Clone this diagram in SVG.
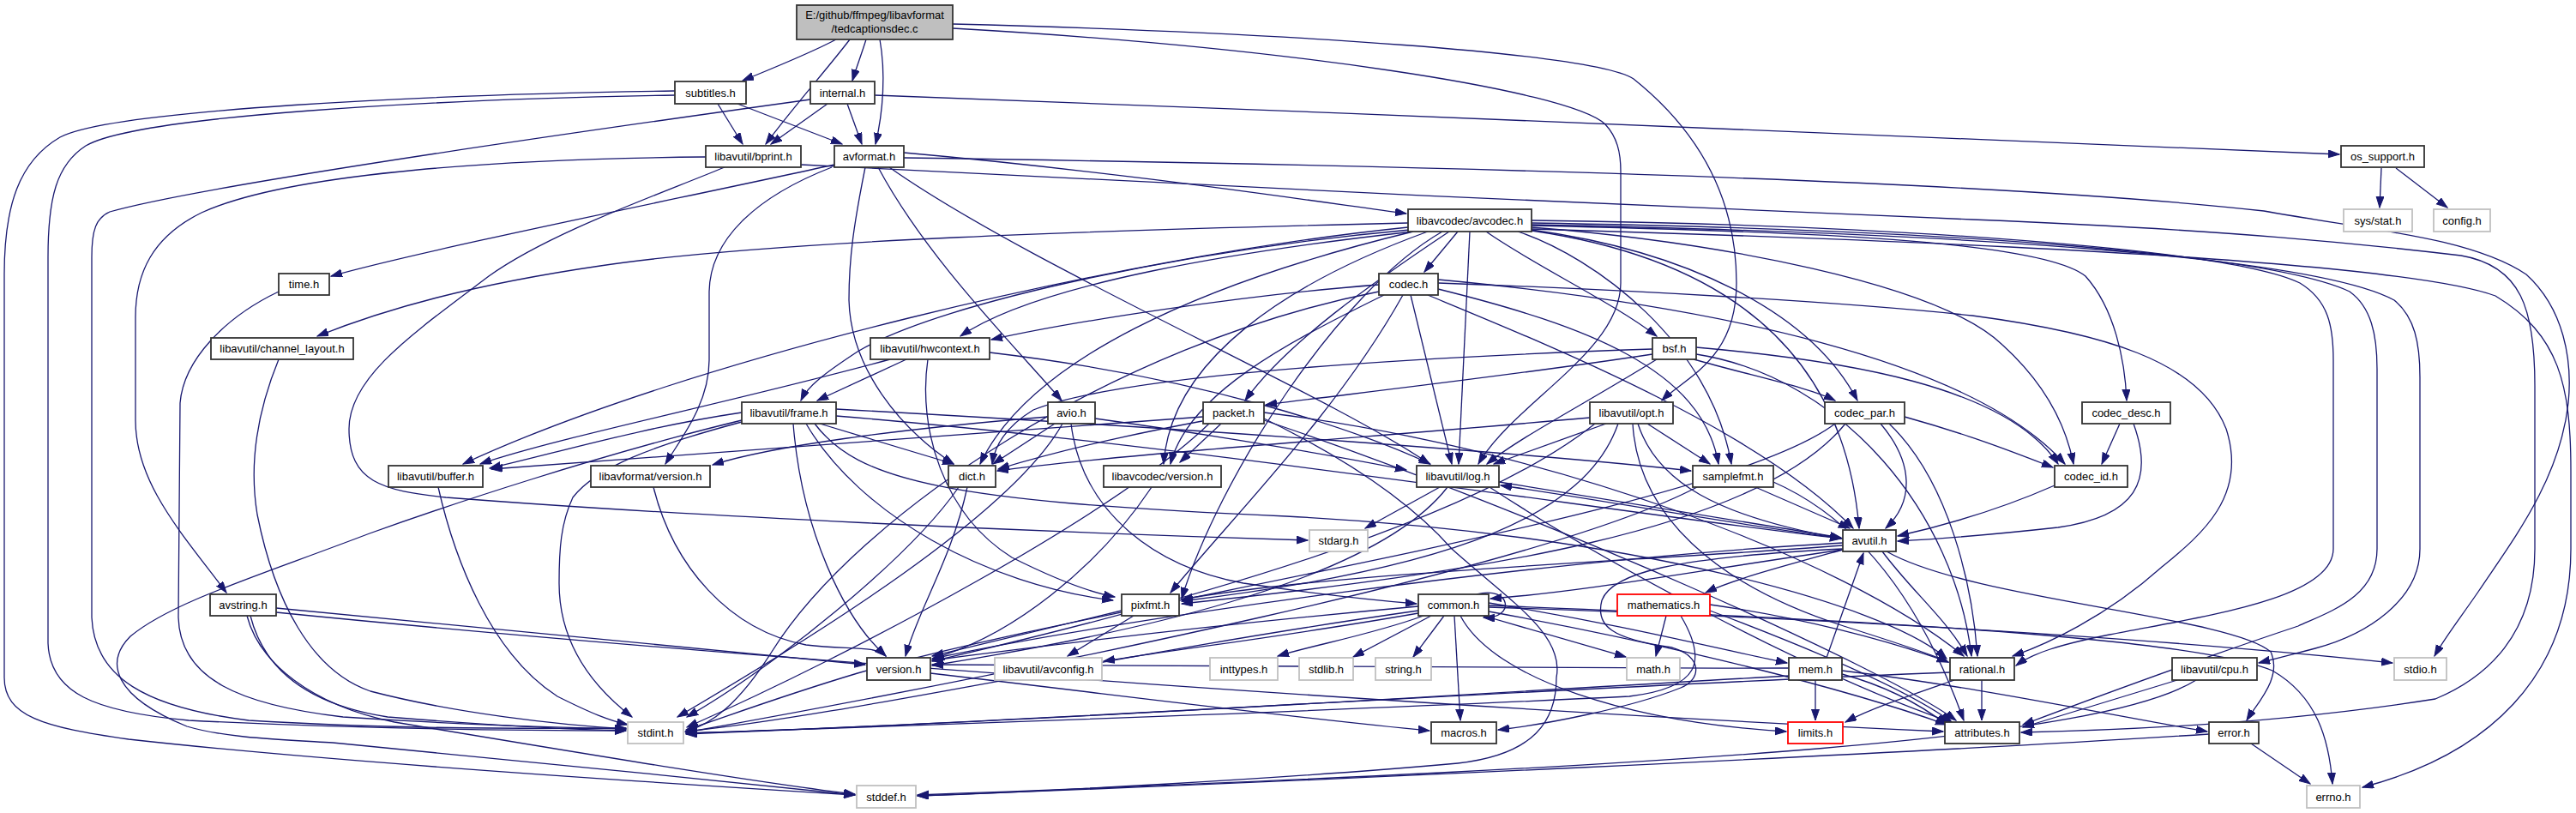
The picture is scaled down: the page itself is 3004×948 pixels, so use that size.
<svg xmlns="http://www.w3.org/2000/svg" width="3004" height="948" viewBox="0 0 3004 948">
<defs>
<marker id="a" markerUnits="userSpaceOnUse" markerWidth="14" markerHeight="10" refX="13" refY="4.5" orient="auto"><path d="M0,0 L13,4.5 L0,9 z" fill="#191970" stroke="#191970" stroke-width="1"/></marker>
<style>
.ed path{fill:none;stroke:#191970;stroke-width:1.3;marker-end:url(#a)}
rect{fill:#fff;stroke-width:1.8}
.b rect{stroke:#333}
.g rect{stroke:#c0c0c0}
.r rect{stroke:#ff0000}
.m rect{fill:#bfbfbf;stroke:#333}
text{font-family:"Liberation Sans",Arial,sans-serif;font-size:13px;text-anchor:middle;fill:#000}
</style>
</defs>
<rect x="0" y="0" width="3004" height="948" style="fill:#fff;stroke:none"/>
<g id="edges" class="ed">
<path d="M975,46 C945,62 900,80 866,94"/>
<path d="M991,46 C965,80 925,125 893,168"/>
<path d="M1010,46 C1005,62 999,78 994,94"/>
<path d="M1026,46 C1033,85 1030,130 1021,168"/>
<path d="M1111,33 C1500,55 1830,105 1872,145 C1886,160 1890,178 1890,200 L1890,330 C1890,410 1765,470 1724,541"/>
<path d="M1111,28 C1500,38 1860,62 1905,92 C1990,160 2025,240 2025,330 C2025,420 1965,440 1938,467"/>
<path d="M837,121 L866,168"/>
<path d="M860,121 L982,168"/>
<path d="M787,106 C500,110 130,128 70,160 C22,188 5,240 5,320 L5,790 C5,835 50,848 150,862 C400,890 800,915 997,927"/>
<path d="M787,111 C500,116 160,135 100,170 C66,192 56,230 56,300 L56,750 C58,808 110,830 220,840 C420,850 600,852 730,852"/>
<path d="M965,121 L899,168"/>
<path d="M988,121 L1005,168"/>
<path d="M945,116 C700,150 240,215 128,247 C112,254 107,268 107,300 L107,720 C110,790 170,825 290,840 C450,850 620,850 730,849"/>
<path d="M1020,111 C1600,133 2300,160 2728,180"/>
<path d="M823,183 C600,185 340,200 235,248 C178,276 158,318 158,370 L158,490 C158,565 215,625 264,691"/>
<path d="M845,195 C760,230 640,272 570,322 C480,390 407,440 407,500 C407,562 445,572 520,580 C800,602 1200,620 1525,630"/>
<path d="M934,192 C1300,212 1900,240 2300,256 C2600,268 2760,285 2870,298 C2940,310 2956,360 2956,450 L2956,640 C2956,740 2900,790 2840,815 C2650,845 2450,852 2357,854"/>
<path d="M973,192 C800,230 500,290 386,322"/>
<path d="M1054,178 C1300,200 1500,230 1640,249"/>
<path d="M1009,195 C996,260 990,300 990,350 C992,430 1050,500 1112,541"/>
<path d="M1024,195 C1080,300 1180,400 1238,467"/>
<path d="M1037,195 C1200,310 1550,460 1667,541"/>
<path d="M1054,184 C1600,192 2300,208 2640,246 C2760,268 2880,276 2946,320 C2990,360 3000,420 2995,470 C2985,560 2930,630 2890,690 C2868,722 2850,745 2839,765"/>
<path d="M970,195 C880,230 828,280 827,340 L827,420 C827,470 795,510 776,541"/>
<path d="M1786,267 C2300,282 2800,305 2910,345 C2985,390 2998,450 2998,550 L2998,640 C2998,790 2900,880 2755,918"/>
<path d="M1770,270 C1860,300 1995,400 2019,541"/>
<path d="M1786,260 C2300,268 2650,298 2740,340 C2765,358 2772,390 2772,430 L2772,640 C2772,695 2720,712 2680,730 C2560,770 2420,822 2359,845"/>
<path d="M1786,269 C2000,300 2150,400 2168,616"/>
<path d="M1642,265 C1300,300 800,420 540,541"/>
<path d="M1786,262 C2300,272 2700,300 2792,350 C2816,370 2822,400 2822,440 L2822,640 C2822,700 2760,740 2700,756 C2670,764 2650,769 2634,773"/>
<path d="M1642,260 C1300,268 900,280 700,310 C550,332 450,360 370,392"/>
<path d="M1648,270 C1400,330 1200,420 1143,541"/>
<path d="M1644,268 C1400,290 1100,350 1000,410 C962,435 942,450 934,467"/>
<path d="M1648,270 C1450,292 1210,330 1120,392"/>
<path d="M1714,270 L1701,541"/>
<path d="M1682,270 C1560,340 1420,560 1378,698"/>
<path d="M1786,257 C2200,262 2600,290 2682,330 C2715,350 2721,380 2721,420 L2721,640 C2721,700 2560,720 2460,740 C2400,752 2370,762 2351,776"/>
<path d="M1733,270 C1790,310 1880,352 1932,392"/>
<path d="M1700,270 L1661,317"/>
<path d="M1786,263 C2100,270 2380,280 2432,322 C2466,360 2478,420 2480,467"/>
<path d="M1786,268 C1960,292 2110,360 2166,467"/>
<path d="M1786,265 C2000,282 2260,330 2335,402 C2390,452 2410,500 2418,541"/>
<path d="M1690,270 C1600,330 1500,400 1452,467"/>
<path d="M1665,270 C1500,330 1365,420 1357,541"/>
<path d="M1608,340 C1300,400 1000,600 900,760 C862,820 830,845 799,853"/>
<path d="M1665,344 C1800,400 2050,500 2161,616"/>
<path d="M1608,332 C1450,344 1250,375 1156,396"/>
<path d="M1645,344 L1693,541"/>
<path d="M1636,344 C1560,480 1440,600 1365,691"/>
<path d="M1677,330 C1900,338 2150,352 2300,368 C2450,388 2565,420 2596,500 C2622,580 2565,625 2520,662 C2455,720 2385,752 2347,765"/>
<path d="M1677,337 C1850,380 1985,430 2004,541"/>
<path d="M1677,326 C2000,356 2300,420 2408,541"/>
<path d="M1614,344 C1500,400 1385,460 1365,541"/>
<path d="M1927,407 C1600,418 1300,440 1205,478 C1172,498 1160,520 1157,541"/>
<path d="M1932,419 C1850,470 1772,510 1734,541"/>
<path d="M1978,413 C2150,440 2280,600 2299,765"/>
<path d="M1978,405 C2150,420 2340,450 2400,541"/>
<path d="M1975,419 C2050,440 2110,452 2140,467"/>
<path d="M1927,413 C1750,440 1550,462 1476,472"/>
<path d="M2140,494 C2000,600 1300,700 1000,785 C900,815 830,842 800,851"/>
<path d="M2193,494 C2232,540 2232,585 2199,616"/>
<path d="M2203,494 C2272,560 2300,680 2306,765"/>
<path d="M2152,494 C2050,620 1720,668 1378,704"/>
<path d="M2221,486 C2300,508 2350,528 2394,545"/>
<path d="M2488,494 C2512,560 2492,602 2400,615 C2300,626 2250,629 2213,631"/>
<path d="M2472,494 L2451,541"/>
<path d="M2396,566 C2330,595 2262,614 2213,625"/>
<path d="M1474,488 C1560,530 1640,580 1693,640 C1760,700 1825,740 1815,790 C1815,840 1790,880 1700,890 C1500,908 1200,924 1070,928"/>
<path d="M1410,494 C1300,600 1000,760 801,848"/>
<path d="M1474,490 C1800,600 2200,780 2281,840"/>
<path d="M1403,486 C1100,508 800,528 573,547"/>
<path d="M1402,491 C1300,510 1220,530 1164,547"/>
<path d="M1474,481 C1800,520 2150,650 2290,765"/>
<path d="M1424,494 L1376,539"/>
<path d="M1343,568 C1280,662 1180,742 1087,768"/>
<path d="M762,568 C785,660 850,735 940,752 C990,758 1020,752 1033,765"/>
<path d="M1239,494 C1180,600 950,742 790,836"/>
<path d="M1249,494 C1262,600 1350,662 1450,680 C1550,695 1605,700 1652,704"/>
<path d="M1230,494 L1158,541"/>
<path d="M1277,488 C1400,505 1550,530 1640,548"/>
<path d="M1222,486 C1050,500 900,520 831,542"/>
<path d="M865,490 C700,530 520,590 431,622 C300,672 200,702 152,742 C122,772 132,812 218,847 C262,860 320,862 388,866 C550,882 800,906 997,927"/>
<path d="M865,492 C760,520 695,545 668,580 C654,610 652,640 652,680 C652,740 680,792 737,836"/>
<path d="M975,485 C1400,520 1900,600 2147,628"/>
<path d="M865,481 C750,498 650,528 571,546"/>
<path d="M956,494 L1112,541"/>
<path d="M950,494 C1000,560 1100,585 1500,602 C1900,622 2200,705 2270,768"/>
<path d="M975,477 C1400,500 1800,530 1972,549"/>
<path d="M940,494 C1002,600 1150,682 1298,700"/>
<path d="M925,494 C935,620 985,722 1033,765"/>
<path d="M1038,419 C850,470 650,510 560,541"/>
<path d="M1057,419 L953,467"/>
<path d="M1154,411 C1400,440 1580,500 1668,541"/>
<path d="M1082,419 C1070,500 1100,600 1180,650 C1230,675 1268,690 1300,696"/>
<path d="M325,419 C300,480 290,540 300,600 C320,700 362,782 432,806 C532,832 650,845 730,850"/>
<path d="M325,340 C262,370 214,420 210,470 L208,720 C210,792 280,822 400,836 C550,846 650,848 730,850"/>
<path d="M511,568 C530,652 572,762 650,812 C690,832 710,840 732,845"/>
<path d="M1118,568 C1060,652 900,780 801,836"/>
<path d="M1128,568 C1110,652 1070,712 1056,765"/>
<path d="M1904,494 C1910,600 2000,682 2150,730 C2220,752 2250,762 2272,772"/>
<path d="M1910,494 C1932,562 2002,602 2147,628"/>
<path d="M1854,487 C1600,510 1300,530 1163,549"/>
<path d="M1873,494 L1742,541"/>
<path d="M1887,494 C1850,600 1700,662 1378,701"/>
<path d="M1921,494 L1994,541"/>
<path d="M1860,494 C1700,622 1300,722 1087,771"/>
<path d="M1679,568 L1592,616"/>
<path d="M1748,562 C1900,588 2050,610 2147,627"/>
<path d="M1737,568 C1850,642 2100,782 2275,842"/>
<path d="M1688,568 C1600,682 1300,742 1087,776"/>
<path d="M1979,568 C1800,662 1200,782 800,854"/>
<path d="M2047,568 L2157,616"/>
<path d="M2068,562 C2200,620 2262,762 2290,840"/>
<path d="M2149,641 C2000,662 1850,690 1738,698"/>
<path d="M2200,643 C2300,700 2600,718 2648,760 C2662,790 2632,820 2620,840"/>
<path d="M2195,643 C2230,690 2270,722 2294,765"/>
<path d="M2149,633 C1800,652 1300,722 1088,768"/>
<path d="M2149,640 C1950,650 1880,668 1868,700 C1860,730 1880,745 1950,755 C1985,765 1985,792 1960,802 C1900,826 1800,845 1747,851"/>
<path d="M2149,641 C2080,660 2020,676 1989,691"/>
<path d="M2149,628 C2000,608 1850,580 1750,566"/>
<path d="M2149,636 C1900,655 1550,668 1378,699"/>
<path d="M1736,706 C2100,720 2550,740 2650,782 C2702,812 2716,862 2720,914"/>
<path d="M1660,718 C1600,740 1532,752 1490,765"/>
<path d="M1703,718 C1742,792 1900,842 2083,853"/>
<path d="M1730,718 L1896,766"/>
<path d="M1654,712 C1300,762 1000,832 800,853"/>
<path d="M1736,708 C2100,720 2500,742 2790,773"/>
<path d="M1669,718 L1578,766"/>
<path d="M1684,718 L1648,766"/>
<path d="M1736,713 C1950,752 2150,802 2270,845"/>
<path d="M1696,718 L1703,840"/>
<path d="M1654,707 C1400,730 1200,755 1087,770"/>
<path d="M1654,715 C1500,742 1380,756 1287,771"/>
<path d="M1736,703 C1900,730 2000,756 2084,773"/>
<path d="M1722,693 C1762,682 1768,722 1730,720"/>
<path d="M1943,718 L1931,765"/>
<path d="M1960,718 C1992,772 1982,802 1900,812 C1500,832 1000,848 800,855"/>
<path d="M1994,705 C2100,720 2200,746 2272,772"/>
<path d="M1994,712 C2100,752 2222,802 2276,842"/>
<path d="M2117,793 L2117,840"/>
<path d="M2130,767 L2173,645"/>
<path d="M2086,788 C1700,810 1200,842 800,855"/>
<path d="M2148,786 C2200,800 2240,822 2270,845"/>
<path d="M2148,782 C2300,800 2450,832 2574,853"/>
<path d="M2086,779 C1700,780 1300,776 1087,775"/>
<path d="M2311,793 L2311,840"/>
<path d="M2279,793 C2230,810 2182,826 2152,842"/>
<path d="M2274,784 C1800,802 1200,842 800,856"/>
<path d="M2625,867 L2694,914"/>
<path d="M2576,856 C2200,880 1500,912 1070,928"/>
<path d="M2539,793 L2359,848"/>
<path d="M2561,793 C2450,862 2000,892 1070,927"/>
<path d="M1322,718 L1245,765"/>
<path d="M1308,712 L1087,765"/>
<path d="M1085,785 C1300,810 1500,836 1667,852"/>
<path d="M288,718 C302,772 362,822 460,842 C700,882 900,915 997,926"/>
<path d="M292,718 C308,782 362,822 452,836 C600,848 680,851 730,852"/>
<path d="M322,709 C600,735 850,760 1009,775"/>
<path d="M322,714 C900,772 1800,832 2266,853"/>
<path d="M2777,196 L2775,242"/>
<path d="M2794,196 L2854,242"/>
</g>
<g id="node-main" class="m"><rect x="929" y="6" width="182" height="40"/><text x="1020" y="22">E:/github/ffmpeg/libavformat</text><text x="1020" y="38">/tedcaptionsdec.c</text></g>
<g id="node-subtitles" class="b"><rect x="787" y="95" width="83" height="26"/><text x="828.5" y="113">subtitles.h</text></g>
<g id="node-internal" class="b"><rect x="945" y="95" width="75" height="26"/><text x="982.5" y="113">internal.h</text></g>
<g id="node-bprint" class="b"><rect x="823" y="170" width="111" height="25"/><text x="878.5" y="187">libavutil/bprint.h</text></g>
<g id="node-avformat" class="b"><rect x="973" y="170" width="81" height="25"/><text x="1013.5" y="187">avformat.h</text></g>
<g id="node-os_support" class="b"><rect x="2730" y="170" width="97" height="25"/><text x="2778.5" y="187">os_support.h</text></g>
<g id="node-avcodec" class="b"><rect x="1642" y="244" width="144" height="26"/><text x="1714" y="261.5">libavcodec/avcodec.h</text></g>
<g id="node-sysstat" class="g"><rect x="2733" y="244" width="80" height="26"/><text x="2773" y="261.5">sys/stat.h</text></g>
<g id="node-config" class="g"><rect x="2838" y="244" width="66" height="26"/><text x="2871" y="261.5">config.h</text></g>
<g id="node-time" class="b"><rect x="325" y="319" width="59" height="25"/><text x="354.5" y="336">time.h</text></g>
<g id="node-codec" class="b"><rect x="1608" y="319" width="69" height="25"/><text x="1642.5" y="336">codec.h</text></g>
<g id="node-channel_layout" class="b"><rect x="246" y="394" width="166" height="25"/><text x="329" y="411">libavutil/channel_layout.h</text></g>
<g id="node-hwcontext" class="b"><rect x="1015" y="394" width="139" height="25"/><text x="1084.5" y="411">libavutil/hwcontext.h</text></g>
<g id="node-bsf" class="b"><rect x="1927" y="394" width="51" height="25"/><text x="1952.5" y="411">bsf.h</text></g>
<g id="node-frame" class="b"><rect x="865" y="469" width="110" height="25"/><text x="920" y="486">libavutil/frame.h</text></g>
<g id="node-avio" class="b"><rect x="1222" y="469" width="55" height="25"/><text x="1249.5" y="486">avio.h</text></g>
<g id="node-packet" class="b"><rect x="1403" y="469" width="71" height="25"/><text x="1438.5" y="486">packet.h</text></g>
<g id="node-opt" class="b"><rect x="1854" y="469" width="97" height="25"/><text x="1902.5" y="486">libavutil/opt.h</text></g>
<g id="node-codec_par" class="b"><rect x="2128" y="469" width="93" height="25"/><text x="2174.5" y="486">codec_par.h</text></g>
<g id="node-codec_desc" class="b"><rect x="2428" y="469" width="103" height="25"/><text x="2479.5" y="486">codec_desc.h</text></g>
<g id="node-buffer" class="b"><rect x="453" y="543" width="110" height="25"/><text x="508" y="560">libavutil/buffer.h</text></g>
<g id="node-lavf_version" class="b"><rect x="689" y="543" width="139" height="25"/><text x="758.5" y="560">libavformat/version.h</text></g>
<g id="node-dict" class="b"><rect x="1106" y="543" width="55" height="25"/><text x="1133.5" y="560">dict.h</text></g>
<g id="node-lavc_version" class="b"><rect x="1287" y="543" width="137" height="25"/><text x="1355.5" y="560">libavcodec/version.h</text></g>
<g id="node-log" class="b"><rect x="1652" y="543" width="96" height="25"/><text x="1700" y="560">libavutil/log.h</text></g>
<g id="node-samplefmt" class="b"><rect x="1974" y="543" width="94" height="25"/><text x="2021" y="560">samplefmt.h</text></g>
<g id="node-codec_id" class="b"><rect x="2396" y="543" width="85" height="25"/><text x="2438.5" y="560">codec_id.h</text></g>
<g id="node-stdarg" class="g"><rect x="1527" y="618" width="68" height="25"/><text x="1561" y="635">stdarg.h</text></g>
<g id="node-avutil" class="b"><rect x="2149" y="618" width="62" height="25"/><text x="2180" y="635">avutil.h</text></g>
<g id="node-avstring" class="b"><rect x="245" y="693" width="77" height="25"/><text x="283.5" y="710">avstring.h</text></g>
<g id="node-pixfmt" class="b"><rect x="1308" y="693" width="67" height="25"/><text x="1341.5" y="710">pixfmt.h</text></g>
<g id="node-common" class="b"><rect x="1654" y="693" width="82" height="25"/><text x="1695" y="710">common.h</text></g>
<g id="node-mathematics" class="r"><rect x="1886" y="693" width="108" height="25"/><text x="1940" y="710">mathematics.h</text></g>
<g id="node-version" class="b"><rect x="1011" y="767" width="74" height="26"/><text x="1048" y="784.5">version.h</text></g>
<g id="node-avconfig" class="g"><rect x="1160" y="767" width="125" height="26"/><text x="1222.5" y="784.5">libavutil/avconfig.h</text></g>
<g id="node-inttypes" class="g"><rect x="1411" y="767" width="79" height="26"/><text x="1450.5" y="784.5">inttypes.h</text></g>
<g id="node-stdlib" class="g"><rect x="1515" y="767" width="63" height="26"/><text x="1546.5" y="784.5">stdlib.h</text></g>
<g id="node-string" class="g"><rect x="1604" y="767" width="65" height="26"/><text x="1636.5" y="784.5">string.h</text></g>
<g id="node-math" class="g"><rect x="1897" y="767" width="62" height="26"/><text x="1928" y="784.5">math.h</text></g>
<g id="node-mem" class="b"><rect x="2086" y="767" width="62" height="26"/><text x="2117" y="784.5">mem.h</text></g>
<g id="node-rational" class="b"><rect x="2274" y="767" width="75" height="26"/><text x="2311.5" y="784.5">rational.h</text></g>
<g id="node-cpu" class="b"><rect x="2533" y="767" width="99" height="26"/><text x="2582.5" y="784.5">libavutil/cpu.h</text></g>
<g id="node-stdio" class="g"><rect x="2792" y="767" width="61" height="26"/><text x="2822.5" y="784.5">stdio.h</text></g>
<g id="node-stdint" class="g"><rect x="732" y="842" width="65" height="25"/><text x="764.5" y="859">stdint.h</text></g>
<g id="node-macros" class="b"><rect x="1669" y="842" width="76" height="25"/><text x="1707" y="859">macros.h</text></g>
<g id="node-limits" class="r"><rect x="2085" y="842" width="64" height="25"/><text x="2117" y="859">limits.h</text></g>
<g id="node-attributes" class="b"><rect x="2268" y="842" width="87" height="25"/><text x="2311.5" y="859">attributes.h</text></g>
<g id="node-error" class="b"><rect x="2576" y="842" width="58" height="25"/><text x="2605" y="859">error.h</text></g>
<g id="node-stddef" class="g"><rect x="999" y="916" width="69" height="26"/><text x="1033.5" y="933.5">stddef.h</text></g>
<g id="node-errno" class="g"><rect x="2690" y="916" width="62" height="26"/><text x="2721" y="933.5">errno.h</text></g>
</svg>
